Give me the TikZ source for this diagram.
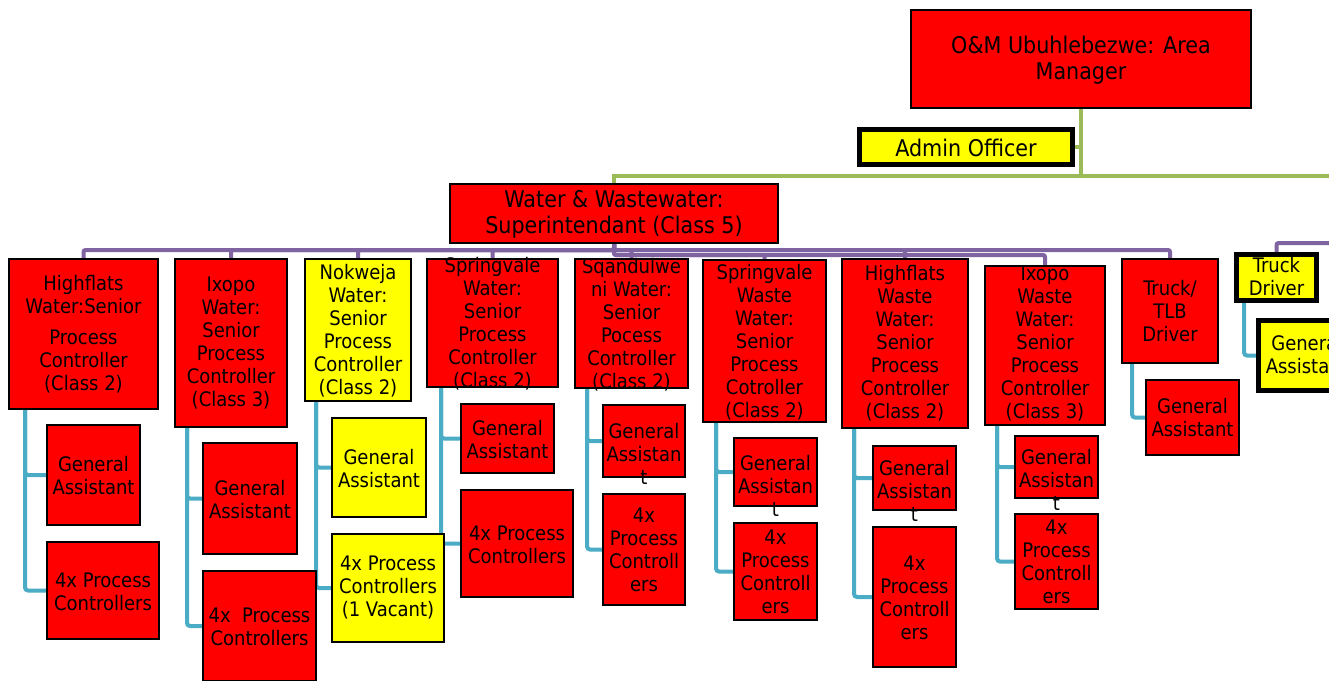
\documentclass[tikz,border=0pt]{standalone}
\usepackage{fontspec}
\setmainfont{DejaVu Sans Condensed}

\definecolor{boxred}{RGB}{255,0,0}
\definecolor{boxyellow}{RGB}{255,255,0}
\definecolor{linkgreen}{RGB}{155,187,89}
\definecolor{linkpurple}{RGB}{128,100,162}
\definecolor{linkcyan}{RGB}{75,172,198}

\pgfdeclarelayer{paper}
\pgfdeclarelayer{links}
\pgfsetlayers{paper,links,main}

\tikzset{
  redbox/.style={draw=black, line width=2pt, fill=boxred, inner sep=0pt, outer sep=0pt},
  yellowbox/.style={redbox, fill=boxyellow},
  keybox/.style={draw=black, line width=5pt, fill=boxyellow, inner sep=0pt, outer sep=0pt},
  bigtext/.style={font=\fontsize{23}{26}\selectfont, align=center, inner sep=0pt},
  boxtext/.style={font=\fontsize{20}{23}\selectfont, align=center, inner sep=0pt},
  green link/.style={draw=linkgreen, line width=3.5pt},
  purple link/.style={draw=linkpurple, line width=4pt, rounded corners=2pt},
  cyan link/.style={draw=linkcyan, line width=4pt, rounded corners=3pt},
}

% \orgbox{name}{box style}{text style}{x1}{y1}{x2}{y2}{text y}{text}
\newcommand\orgbox[9]{%
  \node[#2, minimum width={#6-#4}, minimum height={#7-#5}] (#1) at ({(#4+#6)/2},{(#5+#7)/2}) {};
  \node[#3] (#1-t) at ({(#4+#6)/2},#8) {#9};}

\begin{document}
\begin{tikzpicture}[x=1pt, y=-1pt]
\useasboundingbox (0,0) rectangle (1329,680);
\begin{pgfonlayer}{paper}
  \fill[white] (0,0) rectangle (1329,680);
\end{pgfonlayer}

% management
\orgbox{mgr}{redbox}{bigtext}{911}{10}{1251}{108}{60}{O\&M Ubuhlebezwe: Area\\Manager}
\orgbox{admin}{keybox}{bigtext}{859.5}{129.5}{1072.5}{164.5}{148}{Admin Officer}
\orgbox{sup}{redbox}{bigtext}{450}{184}{778}{243}{214}{Water \& Wastewater:\\Superintendant (Class 5)}

% senior process controllers and drivers
\orgbox{hw}{redbox}{boxtext}{9}{259}{158}{409}{334}{Highflats\\Water:Senior\\[8pt]Process\\Controller\\(Class 2)}
\orgbox{iw}{redbox}{boxtext}{175}{259}{287}{427}{343.5}{Ixopo\\Water:\\Senior\\Process\\Controller\\(Class 3)}
\orgbox{nw}{yellowbox}{boxtext}{305}{259}{411}{401}{330.5}{Nokweja\\Water:\\Senior\\Process\\Controller\\(Class 2)}
\orgbox{sw}{redbox}{boxtext}{427}{259}{558}{387}{324}{Springvale\\Water:\\Senior\\Process\\Controller\\(Class 2)}
\orgbox{sq}{redbox}{boxtext}{575}{259}{688}{388}{324.5}{Sqandulwe\\ni Water:\\Senior\\Pocess\\Controller\\(Class 2)}
\orgbox{sww}{redbox}{boxtext}{703}{260}{826}{422}{342}{Springvale\\Waste\\Water:\\Senior\\Process\\Cotroller\\(Class 2)}
\orgbox{hww}{redbox}{boxtext}{842}{259}{968}{428}{343}{Highflats\\Waste\\Water:\\Senior\\Process\\Controller\\(Class 2)}
\orgbox{iww}{redbox}{boxtext}{985}{266}{1105}{425}{344}{Ixopo\\Waste\\Water:\\Senior\\Process\\Controller\\(Class 3)}
\orgbox{tlb}{redbox}{boxtext}{1122}{259}{1218}{363}{311.5}{Truck/\\TLB\\Driver}
\orgbox{td}{keybox}{boxtext}{1236.5}{254.5}{1316.5}{300.5}{276.5}{Truck\\Driver}

% staff under each controller
\orgbox{ga1}{redbox}{boxtext}{47}{425}{140}{525}{476}{General\\Assistant}
\orgbox{pc1}{redbox}{boxtext}{47}{542}{159}{639}{591.5}{4x Process\\Controllers}
\orgbox{ga2}{redbox}{boxtext}{203}{443}{297}{554}{500}{General\\Assistant}
\orgbox{pc2}{redbox}{boxtext}{203}{571}{316}{681}{626.5}{4x~ Process\\Controllers}
\orgbox{ga3}{yellowbox}{boxtext}{332}{418}{426}{517}{468.5}{General\\Assistant}
\orgbox{pc3}{yellowbox}{boxtext}{332}{534}{444}{642}{588}{4x Process\\Controllers\\(1 Vacant)}
\orgbox{ga4}{redbox}{boxtext}{461}{404}{554}{473}{440}{General\\Assistant}
\orgbox{pc4}{redbox}{boxtext}{461}{490}{573}{597}{544.5}{4x Process\\Controllers}
\orgbox{ga5}{redbox}{boxtext}{603}{405}{685}{477}{454}{General\\Assistan\\t}
\orgbox{pc5}{redbox}{boxtext}{603}{494}{685}{605}{550}{4x\\Process\\Controll\\ers}
\orgbox{ga6}{redbox}{boxtext}{734}{438}{817}{506}{486}{General\\Assistan\\t}
\orgbox{pc6}{redbox}{boxtext}{734}{523}{817}{620}{572}{4x\\Process\\Controll\\ers}
\orgbox{ga7}{redbox}{boxtext}{873}{446}{956}{510}{491}{General\\Assistan\\t}
\orgbox{pc7}{redbox}{boxtext}{873}{527}{956}{667}{597.5}{4x\\Process\\Controll\\ers}
\orgbox{ga8}{redbox}{boxtext}{1015}{436}{1098}{498}{480}{General\\Assistan\\t}
\orgbox{pc8}{redbox}{boxtext}{1015}{514}{1098}{609}{562}{4x\\Process\\Controll\\ers}
\orgbox{ga9}{redbox}{boxtext}{1146}{380}{1239}{455}{418}{General\\Assistant}
\orgbox{ga10}{keybox}{boxtext}{1258.5}{320.5}{1355}{390.5}{355}{General\\Assistant}

% connectors, drawn behind the boxes
\coordinate (east edge) at (1345,0);
\coordinate (td feed) at (1345,243);
\begin{pgfonlayer}{links}
  % area manager
  \path (mgr.south) ++(0,68) coordinate (gj);
  \draw[green link] (mgr.south) -- (gj) -| (sup.north);
  \draw[green link] (gj) -- (gj -| east edge);
  \draw[green link] (mgr.south |- admin.east) -- (admin.east);

  % superintendant
  \path (sup.south) ++(0,7) coordinate (busA);
  \path (sup.south) ++(0,12) coordinate (busB);
  \foreach \c in {hw,iw,nw,sw,sq,hww,tlb}
    \draw[purple link] (sup.south) -- (busA) -| (\c.north);
  \foreach \c in {sww,iww}
    \draw[purple link] (sup.south) -- (busB) -| (\c.north);
  \draw[purple link] (td feed) -| (td.north);

  % controllers to their staff
  \draw[cyan link] ([xshift=16pt]hw.south west) |- (ga1.west);
  \draw[cyan link] ([xshift=16pt]hw.south west) |- (pc1.west);
  \draw[cyan link] ([xshift=12pt]iw.south west) |- (ga2.west);
  \draw[cyan link] ([xshift=12pt]iw.south west) |- (pc2.west);
  \draw[cyan link] ([xshift=11pt]nw.south west) |- (ga3.west);
  \draw[cyan link] ([xshift=11pt]nw.south west) |- (pc3.west);
  \draw[cyan link] ([xshift=14pt]sw.south west) |- (ga4.west);
  \draw[cyan link] ([xshift=14pt]sw.south west) |- (pc4.west);
  \draw[cyan link] ([xshift=12pt]sq.south west) |- (ga5.west);
  \draw[cyan link] ([xshift=12pt]sq.south west) |- (pc5.west);
  \draw[cyan link] ([xshift=13pt]sww.south west) |- (ga6.west);
  \draw[cyan link] ([xshift=13pt]sww.south west) |- (pc6.west);
  \draw[cyan link] ([xshift=12pt]hww.south west) |- (ga7.west);
  \draw[cyan link] ([xshift=12pt]hww.south west) |- (pc7.west);
  \draw[cyan link] ([xshift=12pt]iww.south west) |- (ga8.west);
  \draw[cyan link] ([xshift=12pt]iww.south west) |- (pc8.west);
  \draw[cyan link] ([xshift=10pt]tlb.south west) |- (ga9.west);
  \draw[cyan link] ([xshift=7.5pt]td.south west) |- (ga10.west);
\end{pgfonlayer}
\end{tikzpicture}
\end{document}
